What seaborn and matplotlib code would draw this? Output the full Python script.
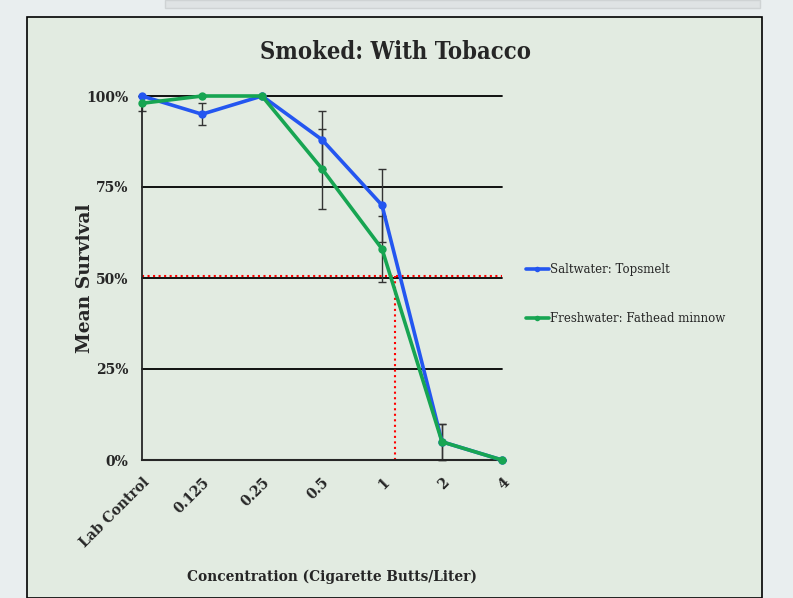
import numpy as np
import pandas as pd
import matplotlib.pyplot as plt
from matplotlib.patches import Rectangle
import seaborn as sns

# данные
concentrations = ["Lab Control", "0.125", "0.25", "0.5", "1", "2", "4"]
salt_mean = [100, 95, 100, 88, 70, 5, 0]
salt_err = [0, 3, 0, 8, 10, 5, 0]
fresh_mean = [98, 100, 100, 80, 58, 5, 0]
fresh_err = [2, 0, 0, 11, 9, 5, 0]
series_names = ["Saltwater: Topsmelt", "Freshwater: Fathead minnow"]
lc50_y = 50.5
lc50_x = 4.22

sns.set_style("white")
plt.rcParams["font.family"] = ["DejaVu Serif"]

pos = np.arange(len(concentrations))
df = pd.DataFrame({
    "pos": np.concatenate([pos, pos]),
    "survival": salt_mean + fresh_mean,
    "err": salt_err + fresh_err,
    "series": [series_names[0]] * len(pos) + [series_names[1]] * len(pos),
})

colors = {series_names[0]: "#2456f0", series_names[1]: "#17a552"}

fig = plt.figure(figsize=(7.93, 5.98), dpi=100)
fig.patch.set_facecolor("#e9eeef")

# фон слайда
fig.patches.append(Rectangle((27 / 793, 0), 735 / 793, 1 - 17 / 598,
                             transform=fig.transFigure, facecolor="#e2ebe1",
                             edgecolor="black", linewidth=1.2, zorder=-5))
fig.patches.append(Rectangle((165 / 793, 1 - 8 / 598), 595 / 793, 8 / 598,
                             transform=fig.transFigure, facecolor="#dfe3e4",
                             edgecolor="#cfd3d4", linewidth=1, zorder=-5))

ax = fig.add_axes([142 / 793, 1 - 460 / 598, 360 / 793, 364 / 598])
ax.set_facecolor("none")
ax.set_zorder(2)

# сетка
for yv in [25, 50, 75, 100]:
    ax.axhline(yv, color="black", lw=1.3, zorder=1, clip_on=False)

# усы ошибок
for name, m, e in [(series_names[0], salt_mean, salt_err),
                   (series_names[1], fresh_mean, fresh_err)]:
    ax.errorbar(pos, m, yerr=e, fmt="none", ecolor="#333333", elinewidth=1,
                capsize=3, capthick=1, zorder=2, clip_on=False)

sns.lineplot(data=df, x="pos", y="survival", hue="series", palette=colors,
             marker="o", markersize=6, markeredgewidth=0, linewidth=2.6,
             ax=ax, zorder=3, clip_on=False)

# LC50
ax.plot([0, 6], [lc50_y, lc50_y], color="red", ls=":", lw=1.5, zorder=2)
ax.plot([lc50_x, lc50_x], [0, lc50_y], color="red", ls=":", lw=1.5, zorder=2)

ax.set_xlim(0, 6)
ax.set_ylim(0, 100)
ax.set_xticks(pos)
ax.set_xticklabels(concentrations, rotation=45, ha="right", rotation_mode="anchor",
                   fontsize=10, fontweight="bold")
ax.set_yticks([0, 25, 50, 75, 100])
ax.set_yticklabels(["0%", "25%", "50%", "75%", "100%"], fontsize=10, fontweight="bold")
ax.tick_params(axis="x", direction="inout", length=10, width=1.2, pad=6)
ax.tick_params(axis="y", length=0, pad=10)
for s in ["top", "right"]:
    ax.spines[s].set_visible(False)
ax.spines["left"].set_linewidth(1.3)
ax.spines["bottom"].set_linewidth(1.5)

ax.set_xlabel("")
ax.set_ylabel("")
fig.text(85 / 793, 1 - 278 / 598, "Mean Survival", rotation=90, ha="center",
         va="center", fontsize=13.5, fontweight="bold")
fig.text(332 / 793, 1 - 577 / 598, "Concentration (Cigarette Butts/Liter)",
         ha="center", va="center", fontsize=11, fontweight="bold",
         fontstretch="condensed")
fig.text(395 / 793, 1 - 52 / 598, "Smoked: With Tobacco", ha="center",
         va="center", fontsize=17, fontweight="bold", fontstretch="condensed")

leg = ax.legend(loc="center left", bbox_to_anchor=(515 / 793, 1 - 294 / 598),
                bbox_transform=fig.transFigure, frameon=False, fontsize=8.5,
                handlelength=2.0, handletextpad=0.1, labelspacing=3.0)
for h in leg.legend_handles:
    h.set_markersize(4)

fig.savefig("out.png", dpi=100, facecolor=fig.get_facecolor())
